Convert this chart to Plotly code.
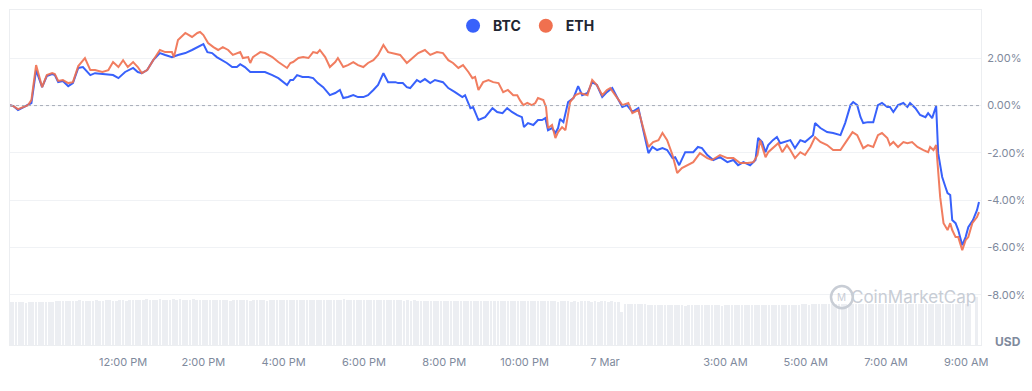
import pandas as pd
import plotly.graph_objects as go

# ---------------- data ----------------
T0 = pd.Timestamp("2024-03-06 09:00")

btc_min = [11, 16, 23, 31, 38, 43, 50, 59, 66, 74, 78, 83, 90, 98, 105, 113, 120, 131, 138, 149,
           158, 165, 173, 183, 195, 202, 208, 216, 225, 235, 243, 253, 262, 273, 283, 291, 300, 306, 313, 320,
           328, 335, 343, 350, 355, 362, 370, 377, 392, 403, 412, 425, 430, 434, 440, 448, 457, 464, 471, 479,
           489, 497, 504, 509, 516, 524, 531, 539, 546, 554, 561, 569, 576, 587, 591, 598, 604, 609, 619, 624,
           631, 639, 646, 658, 666, 676, 687, 691, 699, 703, 711, 721, 732, 739, 747, 754, 761, 769, 776, 779,
           785, 793, 800, 806, 811, 815, 821, 826, 830, 833, 838, 845, 853, 860, 866, 874, 881, 888, 896, 903,
           911, 918, 926, 933, 941, 950, 957, 965, 971, 978, 986, 993, 1001, 1005, 1011, 1020, 1032, 1039, 1045, 1053,
           1062, 1072, 1083, 1092, 1099, 1107, 1117, 1125, 1129, 1135, 1140, 1144, 1151, 1157, 1162, 1169, 1177, 1184, 1192, 1199,
           1207, 1211, 1214, 1222, 1232, 1241, 1252, 1259, 1267, 1271, 1277, 1282, 1286, 1293, 1301, 1308, 1314, 1322, 1326, 1331,
           1338, 1346, 1352, 1356, 1364, 1371, 1379, 1383, 1389, 1395, 1398, 1404, 1409, 1412, 1416, 1419, 1424, 1428, 1434, 1439,
           1443, 1450, 1456, 1459]
btc_pct = [0.02, -0.02, -0.19, -0.06, 0.02, 0.11, 1.50, 0.78, 1.25, 1.33, 1.29, 0.99, 1.04, 0.82, 0.95, 1.59, 1.63, 1.29, 1.37, 1.33,
           1.29, 1.29, 1.16, 1.42, 1.59, 1.42, 1.37, 1.50, 1.92, 2.22, 2.14, 2.05, 2.14, 2.22, 2.35, 2.47, 2.60, 2.26, 2.22, 2.05,
           1.92, 1.80, 1.63, 1.63, 1.75, 1.63, 1.42, 1.42, 1.42, 1.29, 1.16, 0.87, 1.08, 1.08, 1.29, 1.21, 1.21, 1.16, 0.95, 0.78,
           0.44, 0.53, 0.66, 0.32, 0.36, 0.44, 0.36, 0.36, 0.44, 0.66, 0.87, 1.37, 0.99, 0.99, 0.95, 0.95, 0.78, 0.74, 1.08, 0.99,
           1.12, 0.95, 1.08, 0.99, 0.74, 0.57, 0.36, 0.44, -0.11, -0.06, -0.61, -0.49, -0.11, -0.27, -0.32, -0.11, -0.27, -0.40, -0.49, -0.91,
           -0.74, -0.82, -0.61, -0.61, -0.53, -1.04, -0.95, -1.16, -0.95, -0.57, -0.70, 0.15, 0.32, 0.82, 0.44, 0.53, 0.99, 0.87, 0.36, 0.57,
           0.74, 0.36, -0.06, 0.02, -0.27, -0.11, -0.95, -2.01, -1.75, -1.88, -1.80, -1.88, -2.22, -2.18, -2.52, -1.97, -1.97, -1.75, -1.80, -2.09,
           -2.30, -2.18, -2.39, -2.30, -2.52, -2.39, -2.52, -2.30, -1.37, -1.54, -1.97, -1.67, -1.46, -1.33, -1.59, -1.54, -1.46, -1.80, -1.46, -1.54,
           -1.33, -1.25, -0.74, -0.95, -1.12, -1.16, -1.25, -0.74, 0.02, 0.15, 0.02, -0.49, -0.74, -0.70, -0.70, 0.02, 0.11, -0.06, -0.06, -0.27,
           0.02, 0.11, -0.06, 0.11, -0.11, -0.40, -0.49, -0.32, -0.53, -0.02, -2.01, -3.02, -3.45, -3.70, -3.78, -4.84, -4.97, -5.26, -5.90, -5.56,
           -5.14, -4.84, -4.42, -4.08]

eth_min = [11, 16, 23, 31, 38, 43, 50, 59, 66, 74, 78, 83, 90, 98, 105, 113, 123, 131, 138, 149,
           158, 165, 173, 180, 187, 195, 202, 208, 216, 225, 235, 243, 253, 256, 262, 273, 283, 291, 295, 300,
           307, 315, 322, 329, 337, 344, 355, 359, 367, 370, 374, 385, 392, 403, 412, 425, 430, 434, 442, 449,
           457, 464, 470, 474, 482, 489, 497, 501, 509, 516, 524, 531, 539, 546, 554, 561, 569, 576, 584, 594,
           604, 612, 621, 631, 639, 649, 658, 666, 673, 681, 688, 696, 702, 706, 711, 718, 726, 733, 741, 748,
           755, 763, 769, 773, 778, 784, 791, 796, 800, 808, 812, 815, 821, 826, 830, 836, 841, 848, 856, 863,
           874, 881, 888, 896, 903, 908, 918, 926, 935, 941, 950, 957, 965, 972, 980, 986, 993, 1001, 1008, 1015,
           1024, 1032, 1042, 1053, 1060, 1072, 1083, 1092, 1102, 1113, 1122, 1128, 1132, 1140, 1144, 1151, 1159, 1165, 1172, 1177,
           1184, 1192, 1199, 1207, 1214, 1222, 1232, 1241, 1252, 1262, 1270, 1277, 1286, 1293, 1301, 1308, 1314, 1322, 1326, 1331,
           1338, 1346, 1352, 1359, 1367, 1376, 1383, 1386, 1391, 1395, 1398, 1401, 1406, 1412, 1416, 1419, 1424, 1428, 1434, 1439,
           1443, 1449, 1456, 1459]
eth_pct = [0.02, -0.02, -0.15, -0.06, 0.02, 0.23, 1.71, 0.78, 1.29, 1.37, 1.33, 1.04, 1.08, 0.95, 0.99, 1.67, 2.01, 1.50, 1.50, 1.42,
           1.50, 1.84, 1.63, 1.92, 1.63, 1.84, 1.63, 1.37, 1.50, 1.92, 2.35, 2.26, 2.26, 2.05, 2.77, 3.07, 2.90, 3.07, 3.11, 2.98,
           2.64, 2.47, 2.35, 2.47, 2.35, 2.14, 2.26, 2.01, 2.05, 1.80, 2.05, 2.26, 2.22, 2.05, 1.84, 1.59, 1.80, 1.84, 2.01, 2.05,
           2.01, 2.26, 2.22, 2.35, 2.05, 1.63, 1.84, 2.01, 1.63, 1.71, 1.84, 1.71, 1.63, 1.80, 1.92, 2.14, 2.56, 2.26, 2.22, 2.14,
           1.80, 2.01, 2.22, 2.35, 2.14, 2.26, 2.22, 1.92, 1.80, 1.59, 1.71, 1.42, 1.16, 1.21, 0.66, 0.99, 1.08, 0.99, 0.95, 0.57,
           0.66, 0.44, 0.44, 0.23, 0.02, 0.11, 0.02, 0.11, 0.32, 0.23, -0.06, -0.95, -0.82, -1.37, -1.12, -0.91, -1.04, 0.15, 0.44, 0.53,
           0.44, 1.08, 0.87, 0.44, 0.66, 0.74, 0.32, 0.02, 0.11, -0.32, -0.19, -0.95, -1.75, -1.54, -1.46, -1.16, -1.46, -2.09, -2.85, -2.64,
           -2.52, -2.39, -2.01, -2.22, -2.30, -2.09, -2.22, -2.22, -2.43, -2.43, -2.39, -2.09, -1.46, -2.18, -1.97, -1.80, -1.59, -1.97, -1.67, -1.88,
           -2.22, -1.97, -2.09, -1.75, -1.33, -1.54, -1.67, -1.88, -1.88, -1.46, -1.12, -1.25, -1.80, -1.67, -1.75, -1.25, -1.16, -1.37, -1.67, -1.54,
           -1.75, -1.54, -1.59, -1.54, -1.75, -1.88, -1.97, -1.75, -1.88, -1.67, -2.73, -3.87, -4.97, -5.26, -4.97, -5.26, -5.56, -5.56, -6.11, -5.69,
           -5.56, -4.97, -4.71, -4.50]

# 24h volume (USD bn), one bar per 5 minutes starting 09:10
volume = [
    43.8, 44.1, 43.9, 44.2, 44.0, 43.7, 44.3, 44.5, 44.1, 43.9, 44.4, 44.6,
    44.2, 44.8, 45.1, 45.6, 45.3, 45.8, 45.5, 45.2, 45.7, 45.9, 45.4, 45.6,
    45.3, 45.8, 46.0, 45.5, 45.7, 46.1, 45.9, 45.4, 45.8, 46.2, 46.0, 45.7,
    46.3, 46.6, 46.4, 46.8, 46.5, 46.9, 46.7, 46.4, 46.6, 47.0, 46.8, 46.5,
    46.7, 46.9, 46.6, 47.1, 46.8, 46.5, 46.7, 46.9, 46.4, 46.6, 46.8, 46.5,
    46.3, 46.6, 46.4, 46.2, 46.5, 46.0, 45.8, 46.1, 46.3, 45.9, 46.2, 46.0,
    45.8, 46.1, 45.9, 46.3, 46.0, 45.7, 46.2, 46.4, 46.1, 45.9, 46.3, 46.0,
    46.2, 45.9, 46.4, 46.1, 46.5, 46.2, 46.0, 46.3, 46.6, 46.4, 46.1, 46.5,
    46.7, 46.4, 46.8, 46.6, 46.9, 46.5, 46.3, 46.7, 46.5, 46.8, 46.4, 46.6,
    46.3, 46.6, 46.2, 46.5, 46.1, 46.4, 46.0, 46.3, 45.9, 46.2, 45.8, 46.0,
    45.7, 46.0, 45.6, 45.8, 45.4, 45.7, 45.3, 45.6, 45.2, 45.5, 45.1, 45.4,
    45.6, 45.3, 45.7, 45.4, 45.8, 45.5, 45.2, 45.6, 45.3, 45.7, 45.4, 45.5,
    45.3, 45.6, 45.2, 45.5, 45.1, 45.4, 45.0, 45.3, 45.6, 45.2, 45.5, 45.1,
    45.4, 45.0, 45.3, 44.9, 45.2, 45.5, 45.1, 45.3, 44.8, 45.1, 44.9, 45.2,
    44.8, 45.1, 44.7, 45.0, 44.9, 45.2, 44.8, 45.1, 44.6, 44.9, 45.0, 44.7,
    44.9, 44.6, 44.8, 34.5, 42.3, 42.0, 42.4, 41.9, 42.2, 41.8, 42.1, 41.7,
    41.0, 40.8, 41.2, 40.9, 41.1, 40.7, 41.0, 40.8, 41.2, 40.9, 40.6, 41.0,
    40.8, 41.1, 40.9, 41.2, 40.7, 41.0, 40.8, 41.1, 40.9, 40.6, 41.0, 40.8,
    41.1, 40.9, 41.2, 40.8, 41.0, 40.7, 41.1, 40.9, 41.3, 41.0, 40.8, 41.2,
    41.0, 41.3, 40.9, 41.2, 41.0, 41.4, 41.1, 41.3, 41.6, 41.8, 42.0, 41.7,
    42.1, 41.8, 42.2, 41.9, 42.0, 42.3, 41.8, 42.1, 41.9, 42.2, 42.0, 41.8,
    42.1, 41.9, 42.2, 42.0, 41.8, 42.1, 42.3, 41.9, 42.2, 42.0, 42.1, 41.8,
    42.0, 42.3, 41.9, 42.2, 42.0, 42.1, 41.8, 42.2, 42.0, 42.3, 42.1, 42.4,
    42.3, 42.6, 42.2, 42.5, 42.4, 42.7, 42.3, 42.6, 42.5, 42.8, 42.4, 42.6,
    0.0, 49.1,
]

tick_times = ["2024-03-06 12:00", "2024-03-06 14:00", "2024-03-06 16:00", "2024-03-06 18:00",
              "2024-03-06 20:00", "2024-03-06 22:00", "2024-03-07 00:00", "2024-03-07 03:00",
              "2024-03-07 05:00", "2024-03-07 07:00", "2024-03-07 09:00"]
tick_labels = ["12:00 PM", "2:00 PM", "4:00 PM", "6:00 PM", "8:00 PM", "10:00 PM", "7 Mar",
               "3:00 AM", "5:00 AM", "7:00 AM", "9:00 AM"]
y_ticks = [2, 0, -2, -4, -6, -8]
y_labels = ["2.00%", "0.00%", "-2.00%", "-4.00%", "-6.00%", "-8.00%"]

BTC_COLOR = "#3861fb"
ETH_COLOR = "#f0704f"
FONT = "Inter, 'Noto Sans', sans-serif"

btc_time = T0 + pd.to_timedelta(btc_min, unit="min")
eth_time = T0 + pd.to_timedelta(eth_min, unit="min")
vol_time = pd.date_range("2024-03-06 09:10", periods=len(volume), freq="5min")

fig = go.Figure()
fig.add_trace(go.Bar(x=vol_time, y=volume, yaxis="y2", marker=dict(color="#eceef2", line=dict(width=0)),
                     width=240000, showlegend=False, hoverinfo="skip"))
fig.add_trace(go.Scatter(x=btc_time, y=btc_pct, mode="lines", line=dict(color=BTC_COLOR, width=2),
                         showlegend=False, name="BTC"))
fig.add_trace(go.Scatter(x=eth_time, y=eth_pct, mode="lines", line=dict(color=ETH_COLOR, width=2),
                         opacity=0.9, showlegend=False, name="ETH"))
# legend entries (circles)
fig.add_trace(go.Scatter(x=[None], y=[None], mode="markers", name="BTC",
                         marker=dict(size=14, color=BTC_COLOR)))
fig.add_trace(go.Scatter(x=[None], y=[None], mode="markers", name="ETH",
                         marker=dict(size=14, color=ETH_COLOR)))

# The page body has an 8px default margin; the figure is offset by it.
fig.update_layout(
    width=1024, height=375,
    margin=dict(l=2, r=51, t=2, b=38, autoexpand=False),
    paper_bgcolor="white", plot_bgcolor="white",
    font=dict(family=FONT, color="#808a9d", size=11),
    showlegend=True,
    legend=dict(orientation="h", x=0.532, xanchor="center", y=0.952, yanchor="middle",
                font=dict(size=14, color="#222531", family=FONT, weight="bold"),
                bgcolor="rgba(0,0,0,0)", itemclick=False),
    bargap=0,
    xaxis=dict(type="date", range=["2024-03-06 09:11", "2024-03-07 09:22"],
               tickvals=tick_times, ticktext=tick_labels, showgrid=False, zeroline=False,
               showline=True, linecolor="#eceef1", mirror=True, ticks="", automargin=False,
               ticklabelstandoff=7, tickfont=dict(size=11, color="#808a9d")),
    yaxis=dict(side="right", range=[-10.12, 4.04], tickvals=y_ticks, ticktext=y_labels,
               showgrid=True, gridcolor="#f0f2f5", zeroline=False, automargin=False,
               showline=True, linecolor="#eceef1", mirror=True, ticks="",
               ticklabelstandoff=3, tickfont=dict(size=11, color="#808a9d")),
    yaxis2=dict(overlaying="y", range=[0, 345], visible=False),
    shapes=[
        dict(type="line", xref="paper", x0=0, x1=1, yref="y", y0=0, y1=0,
             line=dict(color="#a6acb7", width=1, dash="dot"), layer="above"),
        dict(type="circle", xref="paper", yref="paper", x0=0.8455, x1=0.868, y0=0.110, y1=0.176,
             line=dict(color="#c8cdd5", width=2.5), layer="above"),
    ],
    annotations=[
        dict(text="CoinMarketCap", xref="paper", yref="paper", x=0.9305, y=0.143,
             xanchor="center", yanchor="middle", showarrow=False,
             font=dict(size=17, color="#c8cdd5", family=FONT)),
        dict(text="M", xref="paper", yref="paper", x=0.8567, y=0.143,
             xanchor="center", yanchor="middle", showarrow=False,
             font=dict(size=10, color="#c8cdd5", family=FONT)),
        dict(text="<b>USD</b>", xref="paper", yref="paper", x=1.028, y=0.009,
             xanchor="center", yanchor="middle", showarrow=False,
             font=dict(size=12, color="#808a9d", family=FONT)),
    ],
)

fig.write_html("out.html", config={"displayModeBar": False})
